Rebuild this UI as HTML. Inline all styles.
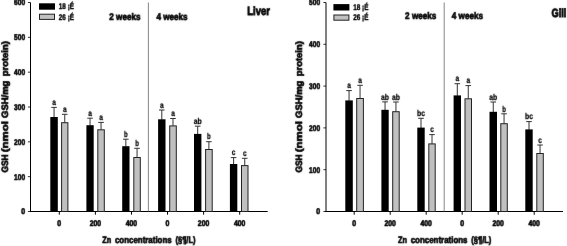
<!DOCTYPE html>
<html><head><meta charset="utf-8"><title>GSH</title>
<style>
html,body{margin:0;padding:0;background:#fff;}
body{width:567px;height:246px;overflow:hidden;font-family:'Liberation Sans', sans-serif;}
text{text-rendering:geometricPrecision;stroke:#000;}
svg{display:block;font-family:'Liberation Sans', sans-serif;}
</style></head><body>
<svg width="567" height="246" viewBox="0 0 567 246">
<defs><filter id="tb" x="0" y="0" width="567" height="246" filterUnits="userSpaceOnUse" color-interpolation-filters="sRGB"><feConvolveMatrix order="3" kernelMatrix="1 2 1 2 36 2 1 2 1" divisor="48" edgeMode="duplicate" preserveAlpha="false"/></filter><filter id="ts" x="0" y="0" width="567" height="246" filterUnits="userSpaceOnUse" color-interpolation-filters="sRGB"><feConvolveMatrix order="3" kernelMatrix="0 1 0 1 14 1 0 1 0" divisor="18" edgeMode="duplicate" preserveAlpha="false"/></filter></defs>
<rect width="567" height="246" fill="#fff"/>
<g>
<line x1="30.5" y1="2.5" x2="30.5" y2="211.5" stroke="#000" stroke-width="1"/>
<line x1="30.0" y1="211.5" x2="267.7" y2="211.5" stroke="#000" stroke-width="1"/>
<line x1="27.9" y1="211.50" x2="30.5" y2="211.50" stroke="#000" stroke-width="0.8"/>
<line x1="27.9" y1="176.67" x2="30.5" y2="176.67" stroke="#000" stroke-width="0.8"/>
<line x1="27.9" y1="141.83" x2="30.5" y2="141.83" stroke="#000" stroke-width="0.8"/>
<line x1="27.9" y1="107.00" x2="30.5" y2="107.00" stroke="#000" stroke-width="0.8"/>
<line x1="27.9" y1="72.17" x2="30.5" y2="72.17" stroke="#000" stroke-width="0.8"/>
<line x1="27.9" y1="37.33" x2="30.5" y2="37.33" stroke="#000" stroke-width="0.8"/>
<line x1="27.9" y1="2.50" x2="30.5" y2="2.50" stroke="#000" stroke-width="0.8"/>
<line x1="59.30" y1="211.5" x2="59.30" y2="214.7" stroke="#000" stroke-width="1"/>
<line x1="95.38" y1="211.5" x2="95.38" y2="214.7" stroke="#000" stroke-width="1"/>
<line x1="131.46" y1="211.5" x2="131.46" y2="214.7" stroke="#000" stroke-width="1"/>
<line x1="167.54" y1="211.5" x2="167.54" y2="214.7" stroke="#000" stroke-width="1"/>
<line x1="203.62" y1="211.5" x2="203.62" y2="214.7" stroke="#000" stroke-width="1"/>
<line x1="239.70" y1="211.5" x2="239.70" y2="214.7" stroke="#000" stroke-width="1"/>
<line x1="148.4" y1="2.5" x2="148.4" y2="211.5" stroke="#666" stroke-width="0.8"/>
<line x1="54.05" y1="107.4" x2="54.05" y2="117.5" stroke="#333" stroke-width="1"/>
<line x1="51.25" y1="107.4" x2="56.85" y2="107.4" stroke="#333" stroke-width="1"/>
<rect x="50.3" y="117.0" width="7.50" height="94.00" fill="#000"/>
<line x1="64.75" y1="114.3" x2="64.75" y2="122.7" stroke="#333" stroke-width="1"/>
<line x1="61.95" y1="114.3" x2="67.55" y2="114.3" stroke="#333" stroke-width="1"/>
<rect x="61.6" y="122.7" width="6.30" height="88.80" fill="#c0c0c0" stroke="#222" stroke-width="1"/>
<line x1="90.05" y1="118.2" x2="90.05" y2="125.7" stroke="#333" stroke-width="1"/>
<line x1="87.25" y1="118.2" x2="92.85" y2="118.2" stroke="#333" stroke-width="1"/>
<rect x="86.4" y="125.2" width="7.30" height="85.80" fill="#000"/>
<line x1="101.05" y1="122.4" x2="101.05" y2="129.8" stroke="#333" stroke-width="1"/>
<line x1="98.25" y1="122.4" x2="103.85" y2="122.4" stroke="#333" stroke-width="1"/>
<rect x="97.8" y="129.8" width="6.50" height="81.70" fill="#c0c0c0" stroke="#222" stroke-width="1"/>
<line x1="125.85" y1="139.2" x2="125.85" y2="146.7" stroke="#333" stroke-width="1"/>
<line x1="123.05" y1="139.2" x2="128.65" y2="139.2" stroke="#333" stroke-width="1"/>
<rect x="122.2" y="146.2" width="7.30" height="64.80" fill="#000"/>
<line x1="137.05" y1="148.3" x2="137.05" y2="157.5" stroke="#333" stroke-width="1"/>
<line x1="134.25" y1="148.3" x2="139.85" y2="148.3" stroke="#333" stroke-width="1"/>
<rect x="133.8" y="157.5" width="6.50" height="54.00" fill="#c0c0c0" stroke="#222" stroke-width="1"/>
<line x1="161.80" y1="110.0" x2="161.80" y2="119.8" stroke="#333" stroke-width="1"/>
<line x1="159.00" y1="110.0" x2="164.60" y2="110.0" stroke="#333" stroke-width="1"/>
<rect x="158.1" y="119.3" width="7.40" height="91.70" fill="#000"/>
<line x1="173.00" y1="118.5" x2="173.00" y2="125.9" stroke="#333" stroke-width="1"/>
<line x1="170.20" y1="118.5" x2="175.80" y2="118.5" stroke="#333" stroke-width="1"/>
<rect x="169.7" y="125.9" width="6.60" height="85.60" fill="#c0c0c0" stroke="#222" stroke-width="1"/>
<line x1="197.70" y1="126.2" x2="197.70" y2="134.4" stroke="#333" stroke-width="1"/>
<line x1="194.90" y1="126.2" x2="200.50" y2="126.2" stroke="#333" stroke-width="1"/>
<rect x="194.0" y="133.9" width="7.40" height="77.10" fill="#000"/>
<line x1="208.90" y1="141.7" x2="208.90" y2="149.5" stroke="#333" stroke-width="1"/>
<line x1="206.10" y1="141.7" x2="211.70" y2="141.7" stroke="#333" stroke-width="1"/>
<rect x="205.6" y="149.5" width="6.60" height="62.00" fill="#c0c0c0" stroke="#222" stroke-width="1"/>
<line x1="233.60" y1="157.6" x2="233.60" y2="164.5" stroke="#333" stroke-width="1"/>
<line x1="230.80" y1="157.6" x2="236.40" y2="157.6" stroke="#333" stroke-width="1"/>
<rect x="229.9" y="164.0" width="7.40" height="47.00" fill="#000"/>
<line x1="244.75" y1="158.3" x2="244.75" y2="165.6" stroke="#333" stroke-width="1"/>
<line x1="241.95" y1="158.3" x2="247.55" y2="158.3" stroke="#333" stroke-width="1"/>
<rect x="241.5" y="165.6" width="6.50" height="45.90" fill="#c0c0c0" stroke="#222" stroke-width="1"/>
<rect x="39" y="3.3" width="16" height="6.4" fill="#000"/>
<rect x="39.5" y="14.2" width="15" height="5.2" fill="#c0c0c0" stroke="#222" stroke-width="1"/>
<line x1="326.0" y1="2.5" x2="326.0" y2="211.5" stroke="#000" stroke-width="1"/>
<line x1="325.5" y1="211.5" x2="563.0" y2="211.5" stroke="#000" stroke-width="1"/>
<line x1="323.4" y1="211.50" x2="326.0" y2="211.50" stroke="#000" stroke-width="0.8"/>
<line x1="323.4" y1="169.70" x2="326.0" y2="169.70" stroke="#000" stroke-width="0.8"/>
<line x1="323.4" y1="127.90" x2="326.0" y2="127.90" stroke="#000" stroke-width="0.8"/>
<line x1="323.4" y1="86.10" x2="326.0" y2="86.10" stroke="#000" stroke-width="0.8"/>
<line x1="323.4" y1="44.30" x2="326.0" y2="44.30" stroke="#000" stroke-width="0.8"/>
<line x1="323.4" y1="2.50" x2="326.0" y2="2.50" stroke="#000" stroke-width="0.8"/>
<line x1="354.20" y1="211.5" x2="354.20" y2="214.7" stroke="#000" stroke-width="1"/>
<line x1="390.20" y1="211.5" x2="390.20" y2="214.7" stroke="#000" stroke-width="1"/>
<line x1="426.20" y1="211.5" x2="426.20" y2="214.7" stroke="#000" stroke-width="1"/>
<line x1="462.20" y1="211.5" x2="462.20" y2="214.7" stroke="#000" stroke-width="1"/>
<line x1="498.20" y1="211.5" x2="498.20" y2="214.7" stroke="#000" stroke-width="1"/>
<line x1="534.20" y1="211.5" x2="534.20" y2="214.7" stroke="#000" stroke-width="1"/>
<line x1="444.2" y1="2.5" x2="444.2" y2="211.5" stroke="#666" stroke-width="0.8"/>
<line x1="349.05" y1="90.6" x2="349.05" y2="100.9" stroke="#333" stroke-width="1"/>
<line x1="346.25" y1="90.6" x2="351.85" y2="90.6" stroke="#333" stroke-width="1"/>
<rect x="345.3" y="100.4" width="7.50" height="110.60" fill="#000"/>
<line x1="360.05" y1="85.3" x2="360.05" y2="98.5" stroke="#333" stroke-width="1"/>
<line x1="357.25" y1="85.3" x2="362.85" y2="85.3" stroke="#333" stroke-width="1"/>
<rect x="356.7" y="98.5" width="6.70" height="113.00" fill="#c0c0c0" stroke="#222" stroke-width="1"/>
<line x1="385.05" y1="101.9" x2="385.05" y2="110.3" stroke="#333" stroke-width="1"/>
<line x1="382.25" y1="101.9" x2="387.85" y2="101.9" stroke="#333" stroke-width="1"/>
<rect x="381.4" y="109.8" width="7.30" height="101.20" fill="#000"/>
<line x1="395.95" y1="102.0" x2="395.95" y2="111.7" stroke="#333" stroke-width="1"/>
<line x1="393.15" y1="102.0" x2="398.75" y2="102.0" stroke="#333" stroke-width="1"/>
<rect x="392.7" y="111.7" width="6.50" height="99.80" fill="#c0c0c0" stroke="#222" stroke-width="1"/>
<line x1="421.00" y1="118.3" x2="421.00" y2="128.1" stroke="#333" stroke-width="1"/>
<line x1="418.20" y1="118.3" x2="423.80" y2="118.3" stroke="#333" stroke-width="1"/>
<rect x="417.3" y="127.6" width="7.40" height="83.40" fill="#000"/>
<line x1="432.00" y1="134.6" x2="432.00" y2="143.9" stroke="#333" stroke-width="1"/>
<line x1="429.20" y1="134.6" x2="434.80" y2="134.6" stroke="#333" stroke-width="1"/>
<rect x="428.8" y="143.9" width="6.40" height="67.60" fill="#c0c0c0" stroke="#222" stroke-width="1"/>
<line x1="457.30" y1="83.7" x2="457.30" y2="95.9" stroke="#333" stroke-width="1"/>
<line x1="454.50" y1="83.7" x2="460.10" y2="83.7" stroke="#333" stroke-width="1"/>
<rect x="453.6" y="95.4" width="7.40" height="115.60" fill="#000"/>
<line x1="468.25" y1="85.6" x2="468.25" y2="98.8" stroke="#333" stroke-width="1"/>
<line x1="465.45" y1="85.6" x2="471.05" y2="85.6" stroke="#333" stroke-width="1"/>
<rect x="465.0" y="98.8" width="6.50" height="112.70" fill="#c0c0c0" stroke="#222" stroke-width="1"/>
<line x1="493.25" y1="102.0" x2="493.25" y2="112.3" stroke="#333" stroke-width="1"/>
<line x1="490.45" y1="102.0" x2="496.05" y2="102.0" stroke="#333" stroke-width="1"/>
<rect x="489.5" y="111.8" width="7.50" height="99.20" fill="#000"/>
<line x1="504.05" y1="113.8" x2="504.05" y2="123.7" stroke="#333" stroke-width="1"/>
<line x1="501.25" y1="113.8" x2="506.85" y2="113.8" stroke="#333" stroke-width="1"/>
<rect x="500.8" y="123.7" width="6.50" height="87.80" fill="#c0c0c0" stroke="#222" stroke-width="1"/>
<line x1="529.00" y1="121.6" x2="529.00" y2="129.9" stroke="#333" stroke-width="1"/>
<line x1="526.20" y1="121.6" x2="531.80" y2="121.6" stroke="#333" stroke-width="1"/>
<rect x="525.3" y="129.4" width="7.40" height="81.60" fill="#000"/>
<line x1="540.05" y1="145.0" x2="540.05" y2="153.5" stroke="#333" stroke-width="1"/>
<line x1="537.25" y1="145.0" x2="542.85" y2="145.0" stroke="#333" stroke-width="1"/>
<rect x="536.8" y="153.5" width="6.50" height="58.00" fill="#c0c0c0" stroke="#222" stroke-width="1"/>
<rect x="333.4" y="4.1" width="16" height="6.4" fill="#000"/>
<rect x="333.9" y="15.0" width="15" height="5.2" fill="#c0c0c0" stroke="#222" stroke-width="1"/>
</g>
<g filter="url(#tb)">
<text x="109.3" y="19.6" font-size="9.7" font-weight="bold" text-anchor="start" stroke-width="0.68" textLength="31.2" lengthAdjust="spacingAndGlyphs" >2 weeks</text>
<text x="156.4" y="19.6" font-size="9.7" font-weight="bold" text-anchor="start" stroke-width="0.68" textLength="31.2" lengthAdjust="spacingAndGlyphs" >4 weeks</text>
<text x="247.3" y="15.4" font-size="12" font-weight="bold" text-anchor="start" stroke-width="0.84" textLength="22.5" lengthAdjust="spacingAndGlyphs" >Liver</text>
<text transform="translate(7.9,172.6) rotate(-90)" x="0" y="0" font-size="9.2" font-weight="bold" stroke-width="0.64" textLength="18.2" lengthAdjust="spacingAndGlyphs">GSH</text>
<text transform="translate(7.9,172.6) rotate(-90)" x="20.3" y="0" font-size="9.2" font-weight="bold" stroke-width="0.64" textLength="31.2" lengthAdjust="spacingAndGlyphs">(nmol</text>
<text transform="translate(7.9,172.6) rotate(-90)" x="54.7" y="0" font-size="9.2" font-weight="bold" stroke-width="0.64" textLength="37.3" lengthAdjust="spacingAndGlyphs">GSH/mg</text>
<text transform="translate(7.9,172.6) rotate(-90)" x="96.4" y="0" font-size="9.2" font-weight="bold" stroke-width="0.64" textLength="35.0" lengthAdjust="spacingAndGlyphs">protein)</text>
<text x="102.20" y="243.3" font-size="9.3" font-weight="bold" text-anchor="start" stroke-width="0.65" textLength="9.0" lengthAdjust="spacingAndGlyphs" >Zn</text>
<text x="114.90" y="243.3" font-size="9.3" font-weight="bold" text-anchor="start" stroke-width="0.65" textLength="56.8" lengthAdjust="spacingAndGlyphs" >concentrations</text>
<text x="175.40" y="243.3" font-size="9.3" font-weight="bold" text-anchor="start" stroke-width="0.65" textLength="20.2" lengthAdjust="spacingAndGlyphs" >(§¶/L)</text>
<text x="405.1" y="19.2" font-size="9.7" font-weight="bold" text-anchor="start" stroke-width="0.68" textLength="31.2" lengthAdjust="spacingAndGlyphs" >2 weeks</text>
<text x="451.8" y="19.2" font-size="9.7" font-weight="bold" text-anchor="start" stroke-width="0.68" textLength="31.2" lengthAdjust="spacingAndGlyphs" >4 weeks</text>
<text x="551.6" y="16.7" font-size="12" font-weight="bold" text-anchor="start" stroke-width="0.84" textLength="14.8" lengthAdjust="spacingAndGlyphs" >Gill</text>
<text transform="translate(302.2,172.6) rotate(-90)" x="0" y="0" font-size="9.2" font-weight="bold" stroke-width="0.64" textLength="18.2" lengthAdjust="spacingAndGlyphs">GSH</text>
<text transform="translate(302.2,172.6) rotate(-90)" x="20.3" y="0" font-size="9.2" font-weight="bold" stroke-width="0.64" textLength="31.2" lengthAdjust="spacingAndGlyphs">(nmol</text>
<text transform="translate(302.2,172.6) rotate(-90)" x="54.7" y="0" font-size="9.2" font-weight="bold" stroke-width="0.64" textLength="37.3" lengthAdjust="spacingAndGlyphs">GSH/mg</text>
<text transform="translate(302.2,172.6) rotate(-90)" x="96.4" y="0" font-size="9.2" font-weight="bold" stroke-width="0.64" textLength="35.0" lengthAdjust="spacingAndGlyphs">protein)</text>
<text x="398.00" y="243.3" font-size="9.3" font-weight="bold" text-anchor="start" stroke-width="0.65" textLength="9.0" lengthAdjust="spacingAndGlyphs" >Zn</text>
<text x="410.70" y="243.3" font-size="9.3" font-weight="bold" text-anchor="start" stroke-width="0.65" textLength="56.8" lengthAdjust="spacingAndGlyphs" >concentrations</text>
<text x="471.20" y="243.3" font-size="9.3" font-weight="bold" text-anchor="start" stroke-width="0.65" textLength="20.2" lengthAdjust="spacingAndGlyphs" >(§¶/L)</text>
</g>
<g filter="url(#ts)">
<text x="25.1" y="214.40" font-size="8.3" font-weight="bold" text-anchor="end" stroke-width="0.58" textLength="3.9" lengthAdjust="spacingAndGlyphs" >0</text>
<text x="25.1" y="179.57" font-size="8.3" font-weight="bold" text-anchor="end" stroke-width="0.58" textLength="11.0" lengthAdjust="spacingAndGlyphs" >100</text>
<text x="25.1" y="144.73" font-size="8.3" font-weight="bold" text-anchor="end" stroke-width="0.58" textLength="11.0" lengthAdjust="spacingAndGlyphs" >200</text>
<text x="25.1" y="109.90" font-size="8.3" font-weight="bold" text-anchor="end" stroke-width="0.58" textLength="11.0" lengthAdjust="spacingAndGlyphs" >300</text>
<text x="25.1" y="75.07" font-size="8.3" font-weight="bold" text-anchor="end" stroke-width="0.58" textLength="11.0" lengthAdjust="spacingAndGlyphs" >400</text>
<text x="25.1" y="40.23" font-size="8.3" font-weight="bold" text-anchor="end" stroke-width="0.58" textLength="11.0" lengthAdjust="spacingAndGlyphs" >500</text>
<text x="25.1" y="5.40" font-size="8.3" font-weight="bold" text-anchor="end" stroke-width="0.58" textLength="11.0" lengthAdjust="spacingAndGlyphs" >600</text>
<text x="59.30" y="226.0" font-size="8.3" font-weight="bold" text-anchor="middle" stroke-width="0.58" textLength="3.9" lengthAdjust="spacingAndGlyphs" >0</text>
<text x="95.38" y="226.0" font-size="8.3" font-weight="bold" text-anchor="middle" stroke-width="0.58" textLength="11.5" lengthAdjust="spacingAndGlyphs" >200</text>
<text x="131.46" y="226.0" font-size="8.3" font-weight="bold" text-anchor="middle" stroke-width="0.58" textLength="11.5" lengthAdjust="spacingAndGlyphs" >400</text>
<text x="167.54" y="226.0" font-size="8.3" font-weight="bold" text-anchor="middle" stroke-width="0.58" textLength="3.9" lengthAdjust="spacingAndGlyphs" >0</text>
<text x="203.62" y="226.0" font-size="8.3" font-weight="bold" text-anchor="middle" stroke-width="0.58" textLength="11.5" lengthAdjust="spacingAndGlyphs" >200</text>
<text x="239.70" y="226.0" font-size="8.3" font-weight="bold" text-anchor="middle" stroke-width="0.58" textLength="11.5" lengthAdjust="spacingAndGlyphs" >400</text>
<text x="54.05" y="105.10" font-size="8.4" font-weight="bold" text-anchor="middle" stroke-width="0.25" textLength="3.7" lengthAdjust="spacingAndGlyphs" >a</text>
<text x="64.75" y="112.00" font-size="8.4" font-weight="bold" text-anchor="middle" stroke-width="0.25" textLength="3.7" lengthAdjust="spacingAndGlyphs" >a</text>
<text x="90.05" y="115.90" font-size="8.4" font-weight="bold" text-anchor="middle" stroke-width="0.25" textLength="3.7" lengthAdjust="spacingAndGlyphs" >a</text>
<text x="101.05" y="120.10" font-size="8.4" font-weight="bold" text-anchor="middle" stroke-width="0.25" textLength="3.7" lengthAdjust="spacingAndGlyphs" >a</text>
<text x="125.85" y="136.90" font-size="8.4" font-weight="bold" text-anchor="middle" stroke-width="0.25" textLength="3.7" lengthAdjust="spacingAndGlyphs" >b</text>
<text x="137.05" y="146.00" font-size="8.4" font-weight="bold" text-anchor="middle" stroke-width="0.25" textLength="3.7" lengthAdjust="spacingAndGlyphs" >b</text>
<text x="161.80" y="107.70" font-size="8.4" font-weight="bold" text-anchor="middle" stroke-width="0.25" textLength="3.7" lengthAdjust="spacingAndGlyphs" >a</text>
<text x="173.00" y="116.20" font-size="8.4" font-weight="bold" text-anchor="middle" stroke-width="0.25" textLength="3.7" lengthAdjust="spacingAndGlyphs" >a</text>
<text x="197.70" y="123.90" font-size="8.4" font-weight="bold" text-anchor="middle" stroke-width="0.25" textLength="8.0" lengthAdjust="spacingAndGlyphs" >ab</text>
<text x="208.90" y="139.40" font-size="8.4" font-weight="bold" text-anchor="middle" stroke-width="0.25" textLength="3.7" lengthAdjust="spacingAndGlyphs" >b</text>
<text x="233.60" y="155.30" font-size="8.4" font-weight="bold" text-anchor="middle" stroke-width="0.25" textLength="3.7" lengthAdjust="spacingAndGlyphs" >c</text>
<text x="244.75" y="156.00" font-size="8.4" font-weight="bold" text-anchor="middle" stroke-width="0.25" textLength="3.7" lengthAdjust="spacingAndGlyphs" >c</text>
<text x="58.8" y="9.3" font-size="8.2" font-weight="bold" text-anchor="start" stroke-width="0.40" textLength="15.2" lengthAdjust="spacingAndGlyphs" >18 ¡É</text>
<text x="58.8" y="19.6" font-size="8.2" font-weight="bold" text-anchor="start" stroke-width="0.40" textLength="15.2" lengthAdjust="spacingAndGlyphs" >26 ¡É</text>
<text x="320.1" y="214.40" font-size="8.3" font-weight="bold" text-anchor="end" stroke-width="0.58" textLength="3.9" lengthAdjust="spacingAndGlyphs" >0</text>
<text x="320.1" y="172.60" font-size="8.3" font-weight="bold" text-anchor="end" stroke-width="0.58" textLength="11.0" lengthAdjust="spacingAndGlyphs" >100</text>
<text x="320.1" y="130.80" font-size="8.3" font-weight="bold" text-anchor="end" stroke-width="0.58" textLength="11.0" lengthAdjust="spacingAndGlyphs" >200</text>
<text x="320.1" y="89.00" font-size="8.3" font-weight="bold" text-anchor="end" stroke-width="0.58" textLength="11.0" lengthAdjust="spacingAndGlyphs" >300</text>
<text x="320.1" y="47.20" font-size="8.3" font-weight="bold" text-anchor="end" stroke-width="0.58" textLength="11.0" lengthAdjust="spacingAndGlyphs" >400</text>
<text x="320.1" y="5.40" font-size="8.3" font-weight="bold" text-anchor="end" stroke-width="0.58" textLength="11.0" lengthAdjust="spacingAndGlyphs" >500</text>
<text x="354.20" y="226.0" font-size="8.3" font-weight="bold" text-anchor="middle" stroke-width="0.58" textLength="3.9" lengthAdjust="spacingAndGlyphs" >0</text>
<text x="390.20" y="226.0" font-size="8.3" font-weight="bold" text-anchor="middle" stroke-width="0.58" textLength="11.5" lengthAdjust="spacingAndGlyphs" >200</text>
<text x="426.20" y="226.0" font-size="8.3" font-weight="bold" text-anchor="middle" stroke-width="0.58" textLength="11.5" lengthAdjust="spacingAndGlyphs" >400</text>
<text x="462.20" y="226.0" font-size="8.3" font-weight="bold" text-anchor="middle" stroke-width="0.58" textLength="3.9" lengthAdjust="spacingAndGlyphs" >0</text>
<text x="498.20" y="226.0" font-size="8.3" font-weight="bold" text-anchor="middle" stroke-width="0.58" textLength="11.5" lengthAdjust="spacingAndGlyphs" >200</text>
<text x="534.20" y="226.0" font-size="8.3" font-weight="bold" text-anchor="middle" stroke-width="0.58" textLength="11.5" lengthAdjust="spacingAndGlyphs" >400</text>
<text x="349.05" y="88.30" font-size="8.4" font-weight="bold" text-anchor="middle" stroke-width="0.25" textLength="3.7" lengthAdjust="spacingAndGlyphs" >a</text>
<text x="360.05" y="83.00" font-size="8.4" font-weight="bold" text-anchor="middle" stroke-width="0.25" textLength="3.7" lengthAdjust="spacingAndGlyphs" >a</text>
<text x="385.05" y="99.60" font-size="8.4" font-weight="bold" text-anchor="middle" stroke-width="0.25" textLength="8.0" lengthAdjust="spacingAndGlyphs" >ab</text>
<text x="395.95" y="99.70" font-size="8.4" font-weight="bold" text-anchor="middle" stroke-width="0.25" textLength="8.0" lengthAdjust="spacingAndGlyphs" >ab</text>
<text x="421.00" y="116.00" font-size="8.4" font-weight="bold" text-anchor="middle" stroke-width="0.25" textLength="8.0" lengthAdjust="spacingAndGlyphs" >bc</text>
<text x="432.00" y="132.30" font-size="8.4" font-weight="bold" text-anchor="middle" stroke-width="0.25" textLength="3.7" lengthAdjust="spacingAndGlyphs" >c</text>
<text x="457.30" y="81.40" font-size="8.4" font-weight="bold" text-anchor="middle" stroke-width="0.25" textLength="3.7" lengthAdjust="spacingAndGlyphs" >a</text>
<text x="468.25" y="83.30" font-size="8.4" font-weight="bold" text-anchor="middle" stroke-width="0.25" textLength="3.7" lengthAdjust="spacingAndGlyphs" >a</text>
<text x="493.25" y="99.70" font-size="8.4" font-weight="bold" text-anchor="middle" stroke-width="0.25" textLength="8.0" lengthAdjust="spacingAndGlyphs" >ab</text>
<text x="504.05" y="111.50" font-size="8.4" font-weight="bold" text-anchor="middle" stroke-width="0.25" textLength="3.7" lengthAdjust="spacingAndGlyphs" >b</text>
<text x="529.00" y="119.30" font-size="8.4" font-weight="bold" text-anchor="middle" stroke-width="0.25" textLength="8.0" lengthAdjust="spacingAndGlyphs" >bc</text>
<text x="540.05" y="142.70" font-size="8.4" font-weight="bold" text-anchor="middle" stroke-width="0.25" textLength="3.7" lengthAdjust="spacingAndGlyphs" >c</text>
<text x="353.2" y="10.1" font-size="8.2" font-weight="bold" text-anchor="start" stroke-width="0.40" textLength="15.2" lengthAdjust="spacingAndGlyphs" >18 ¡É</text>
<text x="353.2" y="20.4" font-size="8.2" font-weight="bold" text-anchor="start" stroke-width="0.40" textLength="15.2" lengthAdjust="spacingAndGlyphs" >26 ¡É</text>
</g>
</svg>
</body></html>
